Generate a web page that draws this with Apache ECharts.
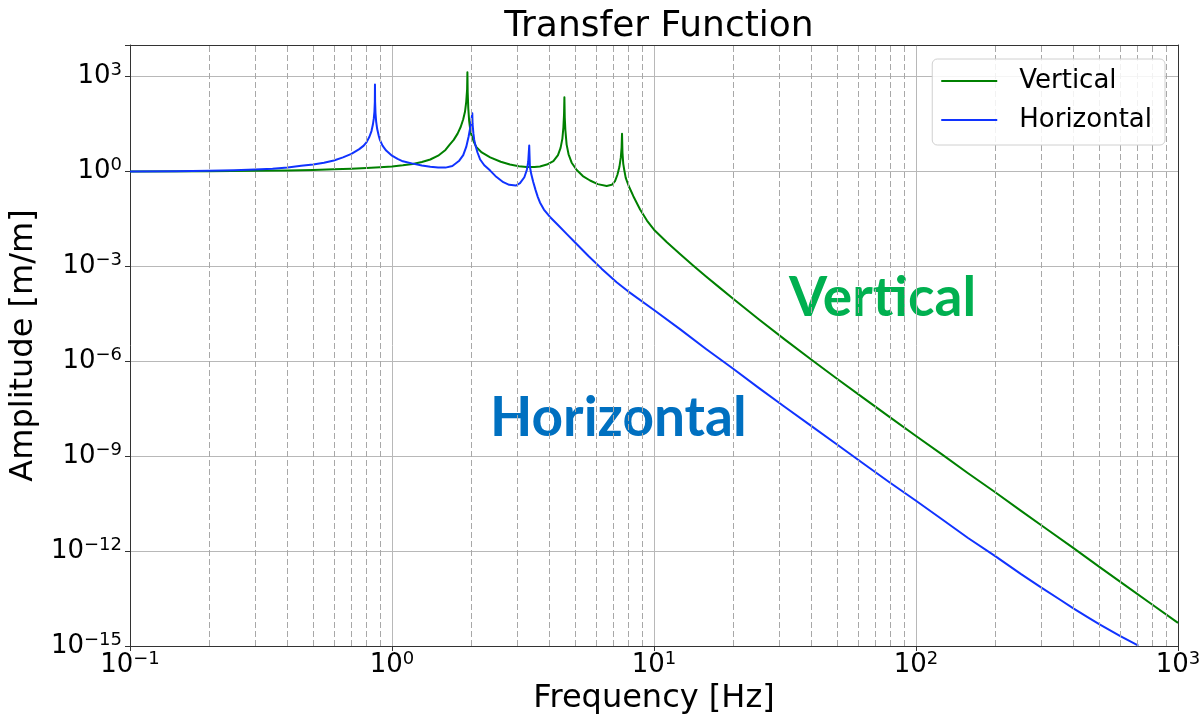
<!DOCTYPE html>
<html>
<head>
<meta charset="utf-8">
<script src="https://cdn.jsdelivr.net/npm/echarts@6/dist/echarts.min.js"></script>
<style>
  html, body { margin: 0; padding: 0; background: #ffffff; }
  #chart { width: 1203px; height: 715px; }
</style>
</head>
<body>
<div id="chart"></div>
<script>
// Frequency response of the suspension: amplitude ratio [m/m] against frequency [Hz]
const seriesNames = ['Vertical', 'Horizontal'];

// Vertical response: three resonances near 1.94, 4.55 and 7.55 Hz
const freqVertical = [
  0.1, 0.2, 0.3, 0.4, 0.5, 0.6, 0.7, 0.8, 0.9, 1.0, 1.1, 1.2, 1.3, 1.4, 1.5, 1.6,
  1.66, 1.72, 1.78, 1.83, 1.87, 1.9, 1.92, 1.935, 1.94, 1.945, 1.955, 1.97, 1.985, 2.0,
  2.05, 2.1, 2.2, 2.37, 2.6, 2.82, 3.05, 3.26, 3.5, 3.67, 3.9, 4.13, 4.3, 4.4, 4.47,
  4.51, 4.535, 4.55, 4.565, 4.59, 4.64, 4.72, 4.85, 5.07, 5.35, 5.7, 6.1, 6.6, 6.9,
  7.1, 7.25, 7.38, 7.47, 7.52, 7.55, 7.58, 7.63, 7.7, 7.8, 8.0, 8.34, 8.85, 9.4, 10,
  11.2, 12.6, 14.1, 15.8, 17.8, 20, 25.1, 31.6, 39.8, 50.1, 63.1, 79.4, 100, 126,
  158, 200, 251, 316, 398, 501, 631, 794, 1000
];
const ampVertical = [
  1.0, 1.02, 1.05, 1.08, 1.12, 1.17, 1.23, 1.29, 1.36, 1.45, 1.58, 1.74, 2.0, 2.4, 3.16, 4.8,
  7.1, 10, 15.8, 26, 45, 79, 160, 400, 1380, 320, 100, 40, 24, 16,
  8.9, 5.9, 4.0, 2.8, 2.04, 1.66, 1.48, 1.38, 1.38, 1.45, 1.66, 2.14, 3.3, 5.6, 11,
  25, 63, 224, 50, 20, 7.1, 3.5, 1.9, 1.12, 0.72, 0.52, 0.40, 0.35, 0.38,
  0.5, 0.79, 1.41, 2.8, 5.6, 15.5, 4.0, 1.78, 1.12, 0.63, 0.355, 0.166, 0.063, 0.0282, 0.01445,
  5.83e-3, 2.41e-3, 1.07e-3, 4.79e-4, 2.14e-4, 9.66e-5, 2.14e-5, 4.84e-6, 1.135e-6, 2.75e-7, 6.84e-8, 1.72e-8, 4.37e-9, 1.12e-9,
  2.88e-10, 7.4e-11, 1.9e-11, 4.9e-12, 1.26e-12, 3.16e-13, 8.1e-14, 2.09e-14, 5.4e-15
];

// Horizontal response: three resonances near 0.861, 2.025 and 3.34 Hz
const freqHorizontal = [
  0.1, 0.15, 0.2, 0.25, 0.3, 0.35, 0.4, 0.45, 0.5, 0.55, 0.6, 0.65, 0.7, 0.75, 0.78,
  0.8, 0.82, 0.835, 0.845, 0.852, 0.857, 0.86, 0.861, 0.862, 0.865, 0.87, 0.878, 0.89,
  0.9, 0.92, 0.95, 1.0, 1.05, 1.1, 1.2, 1.3, 1.4, 1.5, 1.6, 1.7, 1.8, 1.87, 1.92, 1.96,
  1.99, 2.01, 2.025, 2.03, 2.045, 2.06, 2.08, 2.12, 2.17, 2.25, 2.37, 2.5, 2.66, 2.8,
  2.97, 3.08, 3.2, 3.27, 3.31, 3.34, 3.36, 3.4, 3.46, 3.53, 3.6, 3.67, 3.8, 4.0, 4.3,
  4.64, 5.01, 5.62, 6.31, 7.2, 7.94, 10, 12.6, 15.8, 20, 25.1, 31.6, 39.8, 50.1, 63.1,
  79.4, 100, 126, 158, 200, 251, 300, 355, 400, 450, 500, 600, 706
];
const ampHorizontal = [
  1.0, 1.02, 1.06, 1.1, 1.16, 1.23, 1.35, 1.51, 1.66, 1.9, 2.24, 2.8, 3.6, 5.1, 6.6,
  8.5, 12.6, 19, 30, 47, 79, 160, 560, 160, 71, 38, 22, 13.5,
  9.8, 6.6, 4.6, 3.16, 2.5, 2.1, 1.78, 1.55, 1.41, 1.33, 1.33, 1.5, 2.14, 3.3, 6.0, 12.6,
  25, 42, 69, 32, 16, 10, 6.9, 4.0, 2.4, 1.58, 1.07, 0.68, 0.46, 0.38,
  0.36, 0.43, 0.66, 1.12, 2.0, 6.6, 1.41, 0.83, 0.468, 0.263, 0.158, 0.105, 0.063, 0.0372, 0.0204,
  0.0107, 5.6e-3, 2.14e-3, 8.5e-4, 3.16e-4, 1.66e-4, 4.2e-5, 1.02e-5, 2.45e-6, 5.9e-7, 1.45e-7, 3.6e-8, 9.1e-9, 2.3e-9, 5.8e-10,
  1.48e-10, 3.9e-11, 1.0e-11, 2.6e-12, 7.1e-13, 1.9e-13, 7.1e-14, 2.9e-14, 1.51e-14, 8.3e-15, 4.9e-15, 2.1e-15, 1.02e-15
];

// Axis ranges
const xRange = [0.1, 1000];
const yRange = [1e-15, 1e4];
const yLabelStep = 3; // amplitude labels every 3 decades

const colors = { Vertical: '#008000', Horizontal: '#1033ff' };
const textFont = 'DejaVu Sans';

// dashed minor grid at 2..9 x each decade
const minorX = [];
for (let e = -1; e < 3; e++) {
  for (let m = 2; m <= 9; m++) minorX.push(+(m * Math.pow(10, e)).toPrecision(3));
}

function zip(f, a) { return f.map((v, i) => [v, a[i]]); }

function powerLabel(v) {
  const e = Math.round(Math.log10(v));
  const s = e < 0 ? '\u2212' + (-e) : String(e);
  return '{b|10}{s|' + s + '}';
}

const labelRich = {
  b: { fontFamily: textFont, fontSize: 26, color: '#000', lineHeight: 30 },
  s: { fontFamily: textFont, fontSize: 18, color: '#000', lineHeight: 18, verticalAlign: 'top' }
};

const chart = echarts.init(document.getElementById('chart'), null, { renderer: 'canvas' });

chart.setOption({
  animation: false,
  backgroundColor: '#ffffff',
  title: {
    text: 'Transfer Function',
    left: 654,
    textAlign: 'center',
    top: 4,
    textStyle: { fontFamily: textFont, fontSize: 36, fontWeight: 'normal', color: '#000' }
  },
  grid: { left: 130, right: 25, top: 45, bottom: 69, containLabel: false, outerBoundsMode: 'none' },
  legend: {
    data: seriesNames,
    orient: 'vertical',
    right: 38,
    top: 59,
    icon: 'rect',
    itemWidth: 56,
    itemHeight: 2,
    itemGap: 9,
    padding: [7, 13, 10, 9],
    backgroundColor: 'rgba(255,255,255,0.85)',
    borderColor: '#d0d0d0',
    borderWidth: 1,
    borderRadius: 5,
    textStyle: { fontFamily: textFont, fontSize: 26, color: '#000', lineHeight: 30, padding: [0, 0, 0, 17] },
    z: 10
  },
  xAxis: [{
    type: 'log',
    logBase: 10,
    min: xRange[0],
    max: xRange[1],
    name: 'Frequency [Hz]',
    nameLocation: 'middle',
    nameGap: 29,
    nameTextStyle: { fontFamily: textFont, fontSize: 32, color: '#000' },
    axisLine: { show: true, lineStyle: { color: '#333', width: 1 } },
    axisTick: { show: true, inside: false, length: 5, lineStyle: { color: '#333' } },
    axisLabel: { margin: 4, formatter: powerLabel, rich: labelRich },
    splitLine: { show: true, lineStyle: { color: '#b8b8b8', width: 1 } }
  }, {
    type: 'log',
    logBase: 10,
    min: xRange[0],
    max: xRange[1],
    position: 'top',
    axisLine: { show: true, onZero: false, lineStyle: { color: '#333', width: 1 } },
    axisTick: { show: false },
    axisLabel: { show: false },
    splitLine: { show: false }
  }],
  yAxis: [{
    type: 'log',
    logBase: 1000,
    min: yRange[0],
    max: yRange[1],
    name: 'Amplitude [m/m]',
    nameLocation: 'middle',
    nameRotate: 90,
    nameGap: 83,
    nameTextStyle: { fontFamily: textFont, fontSize: 32, color: '#000' },
    axisLine: { show: true, lineStyle: { color: '#333', width: 1 } },
    axisTick: { show: true, inside: false, length: 5, lineStyle: { color: '#333' } },
    axisLabel: {
      margin: 8,
      formatter: v => {
        const e = Math.round(Math.log10(v));
        return (e % yLabelStep === 0 && v <= 1.01e3) ? powerLabel(v) : '';
      },
      rich: labelRich
    },
    splitLine: { show: true, lineStyle: { color: '#b8b8b8', width: 1 } }
  }, {
    type: 'log',
    logBase: 1000,
    min: yRange[0],
    max: yRange[1],
    position: 'right',
    axisLine: { show: true, onZero: false, lineStyle: { color: '#333', width: 1 } },
    axisTick: { show: false },
    axisLabel: { show: false },
    splitLine: { show: false }
  }],
  series: [
    {
      name: 'minor-grid',
      type: 'line',
      data: [],
      silent: true,
      z: 1,
      markLine: {
        silent: true,
        symbol: ['none', 'none'],
        label: { show: false },
        lineStyle: { color: '#a8a8a8', width: 1, type: [6, 3] },
        data: minorX.map(v => ({ xAxis: v }))
      }
    },
    {
      name: seriesNames[0],
      type: 'line',
      data: zip(freqVertical, ampVertical),
      showSymbol: false,
      symbol: 'none',
      color: colors.Vertical,
      lineStyle: { width: 2, color: colors.Vertical, join: 'round' },
      emphasis: { disabled: true },
      z: 3
    },
    {
      name: seriesNames[1],
      type: 'line',
      data: zip(freqHorizontal, ampHorizontal),
      showSymbol: false,
      symbol: 'none',
      color: colors.Horizontal,
      lineStyle: { width: 2, color: colors.Horizontal, join: 'round' },
      emphasis: { disabled: true },
      z: 4
    }
  ],
  graphic: [
    {
      type: 'text',
      left: 789,
      top: 271,
      silent: true,
      style: { text: 'Vertical', fontFamily: 'Lato', fontWeight: 'bold', fontSize: 55, fill: '#00b050' }
    },
    {
      type: 'text',
      left: 490,
      top: 391,
      silent: true,
      style: { text: 'Horizontal', fontFamily: 'Lato', fontWeight: 'bold', fontSize: 55, fill: '#0070c0' }
    }
  ]
});
</script>
</body>
</html>
